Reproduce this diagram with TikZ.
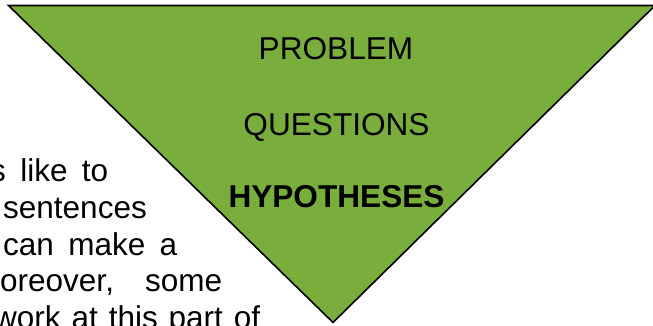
\documentclass[tikz,border=0pt]{standalone}
\usepackage{fontspec}
\setmainfont{Liberation Sans}
\usepackage{tikz}
\usetikzlibrary{arrows.meta}
\definecolor{funnelgreen}{RGB}{121,173,60}

\begin{document}
\begin{tikzpicture}[
    x=1pt, y=-1pt,
    funnel/.style={draw=black, line width=1.6pt, fill=funnelgreen, line join=miter},
    label/.style={inner sep=0pt, anchor=base, font=\fontsize{31.6}{31.6}\selectfont},
    bodyline/.style={inner sep=0pt, anchor=base west, font=\fontsize{31.5}{31.5}\selectfont}
  ]
  \useasboundingbox (0,0) rectangle (653,325);
  \clip (0,0) rectangle (653,325);

  % Text beside the funnel
  \node[bodyline] (lineA) at (-10,181.7) {\makebox[118pt][s]{s like to}};
  \node[bodyline] (lineB) at (3,218.4) {sentences};
  \node[bodyline] (lineC) at (3,255.1) {\makebox[174pt][s]{can make a}};
  \node[bodyline] (lineD) at (0,291.8) {\makebox[222pt][s]{oreover, some}};
  \node[bodyline] (lineE) at (-6,328.5) {\makebox[266pt][s]{work at this part of}};

  % Funnel
  \draw[funnel] (8.5,5.5) -- (655,5.5) -- (333,322.5) -- cycle;

  % Nodes
  \node[label] (problem) at (336,59) {PROBLEM};
  \node[label] (questions) at (336.5,135) {QUESTIONS};
  \node[label] (hypotheses) at (336.5,207) {\bfseries HYPOTHESES};

\end{tikzpicture}
\end{document}
